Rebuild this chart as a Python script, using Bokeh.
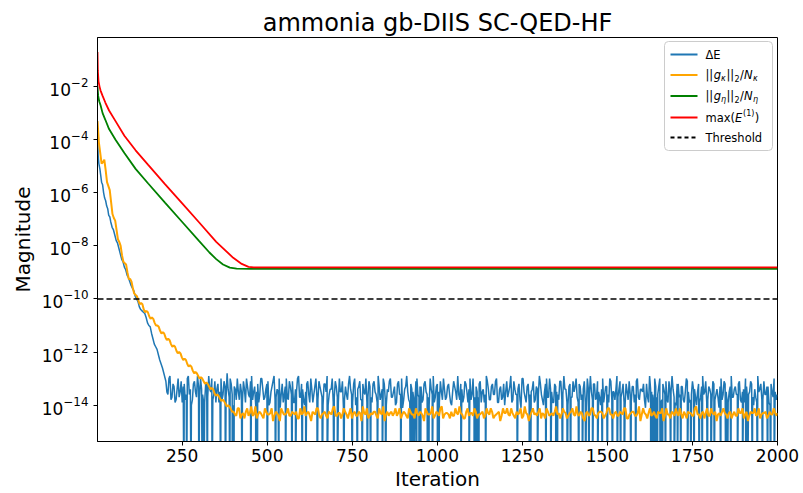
from bokeh.plotting import figure
from bokeh.models import Range1d, FixedTicker, Span, Label, BoxAnnotation, PolyAnnotation
from bokeh.embed import file_html
from bokeh.resources import INLINE

# ---------------- data (log10 of magnitude) ----------------
# max(E^(1))
e1_iter = [1, 2, 4, 7, 10, 16, 24, 35, 54, 80, 113, 150, 200, 250, 300, 350, 400, 425, 445, 460, 1000, 1500, 2000]
e1_log = [-0.7, -1.4, -1.8, -2.0, -2.15, -2.35, -2.6, -2.9, -3.3, -3.85, -4.4, -4.95, -5.68, -6.4, -7.12, -7.85,
          -8.45, -8.68, -8.79, -8.81, -8.81, -8.81, -8.81]

# ||g_eta||_2 / N_eta
eta_iter = [1, 3, 6, 10, 16, 24, 35, 54, 80, 113, 150, 200, 250, 300, 330, 350, 370, 390, 410, 450, 1000, 1500, 2000]
eta_log = [-2.0, -2.35, -2.55, -2.7, -3.0, -3.25, -3.6, -4.0, -4.5, -5.1, -5.65, -6.38, -7.1, -7.82, -8.25, -8.5,
           -8.7, -8.82, -8.86, -8.87, -8.87, -8.87, -8.87]

# ||g_kappa||_2 / N_kappa  at iterations 1, 9, 17, ... plus the last one
kappa_iter = list(range(1, 2001, 8)) + [2000]
kappa_log = [
    -3.3, -4.5, -4.85, -5.15, -5.75, -6.35, -6.95, -7.4, -7.85, -8.35,
    -8.65, -9.0, -9.25, -9.6, -9.85, -10.05, -10.15, -10.4, -10.45, -10.65,
    -10.7, -10.9, -11.0, -11.2, -11.25, -11.45, -11.5, -11.7, -11.75, -11.95,
    -12.0, -12.2, -12.25, -12.45, -12.5, -12.7, -12.75, -12.9, -12.95, -13.1,
    -13.15, -13.3, -13.35, -13.55, -13.6, -13.75, -13.8, -13.95, -14.0, -14.15,
    -14.25, -14.4, -14.12, -14.35, -14.5, -14.12, -14.3, -14.4, -14.05, -14.35, -14.3, -14.5, -14.25, -14.35, -14.12, -14.4, -14.3, -14.6, -14.25, -14.35,
    -14.12, -14.4, -14.3, -14.25, -14.5, -14.35, -14.05, -14.3, -14.4, -14.25, -14.35, -14.12, -14.5, -14.3, -14.4, -14.25, -14.35, -14.05, -14.4, -14.3,
    -14.35, -14.25, -14.5, -14.12, -14.3, -14.4, -14.25, -14.6, -14.3, -14.12, -14.4, -14.35, -14.25, -14.5, -14.3, -14.05, -14.35, -14.4, -14.25, -14.3,
    -14.4, -14.12, -14.35, -14.3, -14.5, -14.25, -14.35, -14.12, -14.4, -14.3, -14.6, -14.25, -14.35, -14.05, -14.4, -14.3, -14.12, -14.5, -14.3, -14.35,
    -14.25, -14.4, -14.3, -14.05, -14.35, -14.5, -14.12, -14.3, -14.4, -14.25, -14.35, -14.3, -14.5, -14.12, -14.35, -14.25, -14.4, -14.3, -14.6, -14.12,
    -14.3, -14.35, -14.12, -14.4, -14.25, -14.3, -14.5, -14.05, -14.35, -14.4, -14.12, -14.3, -14.25, -14.5, -14.35, -14.12, -14.4, -14.3, -14.25, -14.35,
    -14.5, -14.12, -14.3, -14.4, -14.25, -14.35, -14.05, -14.4, -14.3, -14.6, -14.25, -14.35, -14.12, -14.4, -14.3, -14.25, -14.5, -14.3, -14.12, -14.35,
    -14.3, -14.4, -14.25, -14.35, -14.12, -14.5, -14.3, -14.25, -14.4, -14.05, -14.35, -14.3, -14.5, -14.12, -14.35, -14.4, -14.25, -14.3, -14.6, -14.12,
    -14.35, -14.25, -14.4, -14.3, -14.12, -14.5, -14.35, -14.25, -14.3, -14.4, -14.05, -14.35, -14.3, -14.5, -14.12, -14.4, -14.3, -14.25, -14.35, -14.4,
    -14.12, -14.35, -14.3, -14.5, -14.25, -14.4, -14.3, -14.12, -14.35, -14.6, -14.25, -14.3, -14.4, -14.12, -14.35, -14.3, -14.5, -14.25, -14.35, -14.3,
    -14.3,
]
# ||g_kappa||_2 / N_kappa  at iterations 5, 13, 21, ...
kappa_mid_iter = list(range(5, 2001, 8))
kappa_mid_log = [
    -4.1, -4.9, -4.75, -5.6, -5.9, -6.8, -7.05, -7.75, -8.0, -8.6,
    -8.7, -9.25, -9.35, -9.8, -9.9, -10.2, -10.2, -10.5, -10.5, -10.75,
    -10.75, -11.0, -11.05, -11.3, -11.3, -11.55, -11.55, -11.8, -11.8, -12.05,
    -12.05, -12.3, -12.3, -12.55, -12.55, -12.8, -12.8, -13.0, -13.0, -13.2,
    -13.2, -13.4, -13.4, -13.65, -13.65, -13.85, -13.85, -14.05, -14.05, -14.25,
    -14.35, -14.12, -14.5, -14.3, -14.25, -14.4, -14.05, -14.35, -14.5, -14.25, -14.4, -14.12, -14.35, -14.3, -14.6, -14.25, -14.4, -14.12, -14.35, -14.3,
    -14.4, -14.25, -14.35, -14.5, -14.12, -14.3, -14.4, -14.25, -14.6, -14.3, -14.12, -14.4, -14.35, -14.25, -14.5, -14.3, -14.12, -14.4, -14.3, -14.5,
    -14.12, -14.35, -14.3, -14.5, -14.25, -14.4, -14.3, -14.05, -14.35, -14.5, -14.3, -14.25, -14.4, -14.12, -14.35, -14.6, -14.25, -14.3, -14.4, -14.12,
    -14.3, -14.5, -14.25, -14.4, -14.12, -14.35, -14.5, -14.3, -14.25, -14.4, -14.12, -14.35, -14.3, -14.5, -14.25, -14.4, -14.05, -14.35, -14.3, -14.5,
    -14.4, -14.12, -14.35, -14.3, -14.5, -14.25, -14.4, -14.3, -14.12, -14.5, -14.35, -14.25, -14.4, -14.3, -14.12, -14.5, -14.35, -14.25, -14.4, -14.3,
    -14.12, -14.4, -14.3, -14.5, -14.35, -14.12, -14.4, -14.3, -14.6, -14.25, -14.35, -14.4, -14.12, -14.3, -14.5, -14.25, -14.35, -14.4, -14.05, -14.3,
    -14.35, -14.25, -14.5, -14.3, -14.12, -14.4, -14.35, -14.25, -14.5, -14.3, -14.4, -14.12, -14.35, -14.5, -14.25, -14.3, -14.4, -14.12, -14.35, -14.5,
    -14.25, -14.4, -14.3, -14.12, -14.5, -14.35, -14.25, -14.4, -14.3, -14.6, -14.12, -14.35, -14.3, -14.4, -14.25, -14.5, -14.3, -14.12, -14.4, -14.35,
    -14.5, -14.3, -14.12, -14.4, -14.35, -14.25, -14.5, -14.3, -14.4, -14.12, -14.35, -14.5, -14.25, -14.3, -14.4, -14.12, -14.35, -14.6, -14.3, -14.25,
    -14.3, -14.5, -14.25, -14.35, -14.4, -14.12, -14.3, -14.5, -14.25, -14.4, -14.3, -14.12, -14.35, -14.5, -14.3, -14.25, -14.4, -14.35, -14.12, -14.4,
]

# Delta E: initial decline
de_head_iter = [1, 3, 5, 8, 10, 13, 16, 19, 22, 25, 28, 31, 34, 37, 40, 44, 48, 52, 56, 60, 64, 68, 72, 76, 80,
                84, 88, 92, 96, 100, 104, 108, 112, 116, 120, 124, 128, 132, 136, 140, 144, 148, 152, 156, 160,
                164, 168, 172, 176, 180, 184, 188, 192, 196]
de_head_log = [-3.9, -4.6, -4.9, -5.1, -5.3, -5.6, -5.7, -6.0, -6.2, -6.3, -6.5, -6.6, -6.85, -6.9, -7.1,
               -7.3, -7.4, -7.6, -7.8, -7.9, -8.1, -8.3, -8.5, -8.6, -8.8, -8.9, -9.1, -9.2, -9.35, -9.5,
               -9.6, -9.7, -9.9, -10.0, -10.1, -10.3, -10.4, -10.45, -10.5, -10.55, -10.7, -10.9, -11.0, -11.05,
               -11.3, -11.5, -11.7, -11.8, -11.9, -12.1, -12.3, -12.45, -12.6, -12.8]
# Delta E: noise floor at iterations 202, 208, 214, ...
de_band_iter = list(range(202, 2001, 6))
de_band_log = [
    -13.1, -13.6, -12.9, -13.7, -13.3, -13.8, -13.0, -13.5, -13.9, -13.2, -13.6, -12.9, -13.4, -13.8, -13.1, -13.7, -13.3, -13.0, -13.6, -13.9,
    -13.2, -12.9, -13.5, -13.8, -13.1, -13.4, -13.9, -13.0, -13.6, -13.3, -12.8, -13.7, -13.2, -14.0, -13.4, -13.0, -13.8, -13.5, -13.1, -13.9,
    -13.3, -13.7, -12.9, -13.5, -14.0, -13.2, -13.6, -13.0, -13.8, -13.4, -13.1, -13.9, -13.3, -12.9, -13.7, -13.5, -14.1, -13.2, -13.6, -13.0,
    -13.8, -13.3, -13.1, -13.9, -13.5, -12.9, -13.7, -13.4, -14.0, -13.2, -13.6, -13.0, -13.9, -13.3, -13.7, -13.1, -13.5, -14.0, -13.2, -12.9,
    -13.6, -13.4, -13.9, -13.1, -13.7, -13.0, -13.5, -14.1, -13.3, -13.8, -12.9, -13.6, -13.2, -14.0, -13.4, -13.1, -13.8, -13.5, -13.0, -13.7,
    -13.3, -13.9, -13.1, -13.6, -12.9, -13.8, -13.4, -13.2, -14.0, -13.5, -13.0, -13.7, -13.3, -13.9, -13.1, -13.6, -14.1, -13.4, -12.9, -13.8,
    -13.2, -13.5, -13.9, -13.0, -13.7, -13.3, -13.8, -13.1, -13.6, -14.0, -13.4, -12.9, -13.7, -13.2, -13.9, -13.5, -13.0, -13.8, -13.3, -13.6,
    -14.0, -13.1, -13.5, -12.9, -13.8, -13.4, -13.7, -13.2, -13.9, -13.0, -13.6, -14.1, -13.3, -13.7, -13.1, -13.5, -13.9, -12.9, -13.4, -13.8,
    -13.2, -13.6, -13.0, -13.9, -13.3, -13.7, -14.0, -13.1, -13.5, -12.9, -13.8, -13.4, -13.6, -13.2, -14.1, -13.0, -13.7, -13.3, -13.9, -13.5,
    -13.1, -13.8, -13.4, -12.9, -13.6, -14.0, -13.2, -13.7, -13.0, -13.5, -13.9, -13.3, -13.6, -13.1, -13.8, -12.9, -13.4, -14.0, -13.2, -13.7,
    -13.5, -13.0, -13.9, -13.3, -13.6, -13.1, -14.1, -13.4, -12.9, -13.8, -13.2, -13.7, -13.5, -14.0, -13.0, -13.6, -13.3, -13.9, -13.1, -13.5,
    -13.8, -12.9, -13.4, -13.7, -13.2, -14.0, -13.5, -13.1, -13.9, -13.3, -13.6, -13.0, -13.8, -13.4, -13.2, -14.1, -13.7, -12.9, -13.5, -13.9,
    -13.3, -13.6, -13.0, -13.8, -13.4, -13.1, -13.9, -13.5, -12.9, -13.7, -14.0, -13.2, -13.6, -13.3, -13.9, -13.0, -13.5, -13.8, -13.1, -13.4,
    -14.0, -13.2, -13.7, -12.9, -13.5, -13.9, -13.3, -13.6, -13.1, -13.8, -13.4, -14.1, -13.0, -13.6, -13.2, -13.9, -13.5, -12.9, -13.7, -13.3,
    -13.6, -13.1, -13.9, -13.4, -13.0, -13.8, -13.5, -13.2, -14.0, -13.7, -12.9, -13.4, -13.8, -13.1, -13.6, -13.3, -14.0, -13.5, -13.0, -13.8,
]
# Delta E: noise floor at iterations 205, 211, 217, ...
de_band2_iter = list(range(205, 2001, 6))
de_band2_log = [
    -13.5, -13.0, -13.8, -13.2, -13.9, -13.4, -13.7, -13.1, -13.3, -13.8, -13.0, -13.6, -14.0, -13.2, -13.5, -12.9, -13.7, -13.4, -13.9, -13.2,
    -13.7, -13.4, -13.0, -13.6, -13.9, -13.2, -13.5, -13.8, -13.1, -13.7, -13.4, -13.0, -13.6, -13.3, -13.8, -13.5, -13.2, -13.9, -13.4, -13.0,
    -13.6, -13.1, -13.8, -13.3, -13.5, -13.9, -13.0, -13.4, -13.7, -13.2, -14.0, -13.5, -13.1, -13.8, -13.4, -13.0, -13.6, -13.9, -13.3, -13.7,
    -13.1, -13.6, -13.9, -13.4, -13.0, -13.7, -13.2, -13.8, -13.5, -13.1, -13.9, -13.4, -13.6, -13.0, -13.8, -13.3, -13.7, -13.2, -13.5, -14.0,
    -13.4, -13.0, -13.7, -13.3, -13.9, -13.5, -13.1, -13.8, -13.6, -13.2, -13.4, -13.9, -13.0, -13.7, -13.3, -13.8, -13.2, -13.6, -13.9, -13.1,
    -13.7, -13.2, -13.5, -13.9, -13.3, -13.6, -13.0, -13.8, -13.4, -13.1, -13.7, -13.5, -14.0, -13.2, -13.6, -13.0, -13.8, -13.3, -13.5, -13.9,
    -13.4, -13.8, -13.1, -13.6, -13.3, -13.9, -13.2, -13.5, -13.7, -13.0, -13.6, -13.9, -13.3, -13.5, -13.1, -13.8, -13.4, -13.7, -13.2, -13.9,
    -13.5, -13.3, -13.8, -13.6, -13.2, -13.9, -13.1, -13.5, -13.4, -13.8, -13.0, -13.7, -13.5, -13.2, -13.9, -13.4, -13.6, -13.1, -13.8, -13.3,
    -13.6, -13.1, -13.9, -13.4, -13.8, -13.2, -13.5, -13.7, -13.3, -13.9, -13.1, -13.6, -13.4, -13.8, -13.0, -13.5, -13.9, -13.2, -13.6, -13.4,
    -13.9, -13.3, -13.6, -13.2, -13.8, -13.5, -13.0, -13.7, -13.4, -13.9, -13.2, -13.5, -13.8, -13.1, -13.6, -13.4, -13.9, -13.3, -13.7, -13.1,
    -13.3, -13.7, -13.2, -13.8, -13.4, -13.9, -13.0, -13.6, -13.5, -13.2, -13.8, -13.1, -13.7, -13.4, -13.9, -13.3, -13.6, -13.0, -13.8, -13.5,
    -13.4, -13.7, -13.1, -13.5, -13.9, -13.2, -13.8, -13.6, -13.3, -13.9, -13.1, -13.7, -13.4, -13.5, -13.8, -13.2, -13.9, -13.4, -13.6, -13.0,
    -13.7, -13.3, -13.9, -13.2, -13.6, -13.8, -13.1, -13.5, -13.4, -13.9, -13.2, -13.7, -13.3, -13.8, -13.5, -13.1, -13.9, -13.6, -13.4, -13.7,
    -13.5, -13.9, -13.3, -13.6, -13.1, -13.8, -13.4, -13.9, -13.2, -13.6, -13.7, -13.3, -13.8, -13.1, -13.5, -13.9, -13.3, -13.7, -13.4, -13.6,
    -13.2, -13.8, -13.5, -13.9, -13.3, -13.6, -13.1, -13.7, -13.4, -13.9, -13.5, -13.2, -13.8, -13.6, -13.3, -13.9, -13.2, -13.7, -13.5, -13.6,
]
# Delta E: iterations where it drops to (numerical) zero
de_zero_iter = [255, 263, 276, 299, 309, 314, 324, 338, 363, 377, 390, 397, 402, 426, 451, 466, 471, 500, 524, 534,
                554, 573, 583, 603, 613, 647, 662, 676, 696, 706, 725, 750, 765, 779, 794, 804, 824, 838, 848, 892,
                921, 926, 931, 939, 946, 951, 971, 975, 985, 1000, 1005, 1069, 1093, 1108, 1113, 1118, 1122, 1142,
                1235, 1270, 1274, 1294, 1319, 1333, 1348, 1353, 1368, 1382, 1392, 1416, 1426, 1436, 1446, 1456,
                1471, 1485, 1500, 1515, 1529, 1539, 1549, 1569, 1583, 1627, 1632, 1637, 1642, 1647, 1655, 1662,
                1671, 1686, 1696, 1706, 1716, 1735, 1745, 1755, 1770, 1779, 1794, 1804, 1814, 1833, 1848, 1853,
                1863, 1882, 1897, 1907, 1912, 1926, 1941, 1956, 1971, 1980, 1990]
de_zero_log = -18.0

threshold = 1e-10
y_ticks = [1e-14, 1e-12, 1e-10, 1e-08, 1e-06, 1e-04, 1e-02]
x_ticks = [250, 500, 750, 1000, 1250, 1500, 1750, 2000]

# ---------------- assemble ----------------
de_pts = (list(zip(de_head_iter, de_head_log)) + list(zip(de_band_iter, de_band_log)) +
          list(zip(de_band2_iter, de_band2_log)) + [(i, de_zero_log) for i in de_zero_iter])
de_pts.sort(key=lambda t: t[0])
kap = list(zip(kappa_iter, kappa_log)) + list(zip(kappa_mid_iter, kappa_mid_log))
kap.sort(key=lambda t: t[0])
eta = list(zip(eta_iter, eta_log))
e1 = list(zip(e1_iter, e1_log))

def xs(pts):
    return [t[0] for t in pts]

def ys(pts):
    return [10 ** t[1] for t in pts]

X0, X1 = 1, 2000
YLT, YLB = -0.15, -15.37
FW, FH = 680, 404

FONT = "DejaVu Sans"
p = figure(frame_width=FW, frame_height=FH, y_axis_type="log",
           x_range=Range1d(X0, X1), y_range=Range1d(10 ** YLB, 10 ** YLT),
           output_backend="svg", toolbar_location=None,
           min_border_left=97, min_border_right=26, min_border_top=37, min_border_bottom=52,
           title="ammonia gb-DIIS SC-QED-HF")
p.background_fill_color = "white"
p.border_fill_color = "white"
p.outline_line_color = "black"
p.outline_line_width = 1
p.xgrid.visible = False
p.ygrid.visible = False

p.title.text_font = FONT
p.title.text_font_size = "24px"
p.title.text_font_style = "normal"
p.title.align = "center"
p.title.text_color = "black"
p.title.standoff = 2

p.xaxis.ticker = FixedTicker(ticks=x_ticks, minor_ticks=[])
p.yaxis.ticker = FixedTicker(ticks=y_ticks, minor_ticks=[])
p.xaxis.axis_label = "Iteration"
p.yaxis.axis_label = "Magnitude"
for ax in (p.xaxis[0], p.yaxis[0]):
    ax.major_label_text_font = FONT
    ax.major_label_text_font_size = "17px"
    ax.major_label_text_color = "black"
    ax.axis_label_text_font = FONT
    ax.axis_label_text_font_size = "20px"
    ax.axis_label_text_font_style = "normal"
    ax.axis_label_text_color = "black"
    ax.major_tick_out = 4
    ax.major_tick_in = 0
    ax.minor_tick_out = 0
    ax.minor_tick_in = 0
    ax.axis_line_color = "black"
    ax.major_tick_line_color = "black"
p.xaxis.major_label_standoff = 3
p.xaxis.axis_label_standoff = 2
p.yaxis.major_label_standoff = 5
p.yaxis.axis_label_standoff = 4

C_DE, C_K, C_ETA, C_E1 = "#1f77b4", "#ffa500", "#008000", "#ff0000"
p.line(xs(de_pts), ys(de_pts), line_color=C_DE, line_width=1.5)
p.line(xs(kap), ys(kap), line_color=C_K, line_width=2.0)
p.line(xs(eta), ys(eta), line_color=C_ETA, line_width=1.8)
p.line(xs(e1), ys(e1), line_color=C_E1, line_width=1.8)
p.add_layout(Span(location=threshold, dimension="width", line_color="black",
                  line_width=1.6, line_dash="6 3"))

# ---------------- legend (frame-relative pixel layout) ----------------
def fx(dx):
    return X0 + dx / FW * (X1 - X0)

def fy(dy):
    return 10 ** (YLT - dy / FH * (YLT - YLB))

p.add_layout(BoxAnnotation(left=fx(567), right=fx(675), top=fy(4), bottom=fy(113),
                           fill_color="white", fill_alpha=0.8, line_color="#cccccc",
                           line_alpha=1.0, line_width=1, border_radius=4))
rows = [17, 37.5, 58.5, 80, 100]
keys = [(C_DE, None), (C_K, None), (C_ETA, None), (C_E1, None), ("black", "4 3")]
for (col, dash), r in zip(keys, rows):
    kw = dict(line_dash=dash) if dash else {}
    p.add_layout(PolyAnnotation(xs=[fx(573), fx(600)], ys=[fy(r), fy(r)], fill_alpha=0,
                                line_color=col, line_alpha=1.0, line_width=1.8, **kw))

TX = fx(608)
def piece(text, row, dx, size=11.5, dy=0, italic=False):
    p.add_layout(Label(x=TX, y=fy(row), x_offset=dx, y_offset=dy, text=text,
                       text_font=FONT, text_font_size=f"{size}px",
                       text_font_style="italic" if italic else "normal",
                       text_baseline="middle", text_align="left", text_color="black"))

piece("ΔE", rows[0], 0)
for r, sym in ((rows[1], "κ"), (rows[2], "η")):
    piece("||", r, 0)
    piece("g", r, 8.2, italic=True)
    piece(sym, r, 15.6, size=8, dy=-3, italic=True)
    piece("||", r, 21.0)
    piece("2", r, 29.0, size=8, dy=-3)
    piece("/", r, 34.4)
    piece("N", r, 38.6, italic=True)
    piece(sym, r, 47.6, size=8, dy=-3, italic=True)
piece("max(", rows[3], 0)
piece("E", rows[3], 29.6, italic=True)
piece("(1)", rows[3], 37.6, size=8, dy=4)
piece(")", rows[3], 49.2)
piece("Threshold", rows[4], 0)

open("out.html", "w").write(file_html(p, INLINE))
